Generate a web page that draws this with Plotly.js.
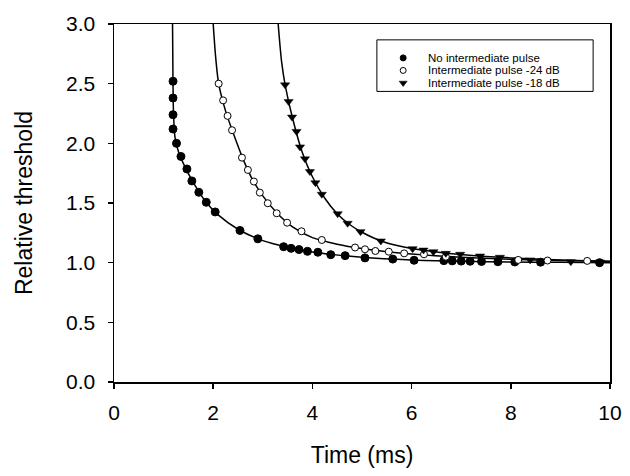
<!DOCTYPE html>
<html>
<head>
<meta charset="utf-8">
<script src="https://cdn.plot.ly/plotly-3.0.1.min.js"></script>
<style>html,body{margin:0;padding:0;background:#fff;}#chart{width:630px;height:476px;}</style>
</head>
<body>
<div id="chart"></div>
<script>
// Series names
const seriesNames = ["No intermediate pulse", "Intermediate pulse -24 dB", "Intermediate pulse -18 dB"];

// Measured points: no intermediate pulse (filled circles)
const noPulseX = [1.19,1.19,1.19,1.19,1.26,1.35,1.47,1.57,1.71,1.86,2.04,2.54,2.90,3.42,3.57,3.73,3.90,4.11,4.37,4.66,5.06,5.62,6.05,6.65,6.82,7.00,7.18,7.41,7.74,8.08,8.60,9.79];
const noPulseY = [2.52,2.38,2.24,2.12,2.00,1.89,1.785,1.685,1.59,1.506,1.425,1.27,1.20,1.134,1.12,1.11,1.095,1.087,1.067,1.059,1.04,1.03,1.02,1.017,1.015,1.013,1.012,1.010,1.008,1.006,1.004,1.0];

// Measured points: intermediate pulse -24 dB (open circles)
const pulse24X = [2.11,2.20,2.29,2.38,2.58,2.70,2.82,2.94,3.10,3.28,3.49,3.78,4.19,4.86,5.06,5.27,5.54,5.85,6.25,6.69,8.15,8.74,9.54];
const pulse24Y = [2.50,2.36,2.23,2.11,1.88,1.777,1.68,1.587,1.498,1.414,1.335,1.263,1.19,1.127,1.112,1.098,1.092,1.078,1.07,1.05,1.023,1.018,1.015];

// Measured points: intermediate pulse -18 dB (filled down-triangles)
const pulse18X = [3.45,3.52,3.59,3.68,3.75,3.85,3.95,4.06,4.19,4.51,4.71,4.97,5.38,6.02,6.24,6.44,6.69,6.98,7.38,7.78,8.39,9.21,9.80];
const pulse18Y = [2.49,2.35,2.22,2.10,1.97,1.87,1.763,1.67,1.573,1.41,1.33,1.26,1.182,1.117,1.106,1.092,1.078,1.07,1.056,1.045,1.023,1.008,1.005];

// Fitted curves
const fitNoPulseX = [1.18,1.185,1.19,1.20,1.23,1.30,1.40,1.60,1.85,2.10,2.50,3.00,3.50,4.00,5.00,6.00,7.00,8.00,9.00,10.0];
const fitNoPulseY = [3.00,2.75,2.50,2.25,2.05,1.93,1.83,1.67,1.51,1.40,1.28,1.185,1.13,1.09,1.045,1.022,1.012,1.006,1.003,1.0];
const fit24X = [2.00,2.05,2.11,2.25,2.40,2.60,2.80,3.00,3.30,3.60,4.00,4.50,5.00,5.50,6.00,7.00,8.00,9.00,10.0];
const fit24Y = [3.00,2.72,2.50,2.27,2.09,1.87,1.69,1.56,1.41,1.30,1.21,1.155,1.118,1.092,1.072,1.045,1.028,1.018,1.012];
const fit18X = [3.31,3.38,3.45,3.60,3.80,4.00,4.25,4.50,4.75,5.00,5.40,6.00,6.50,7.00,7.50,8.00,9.00,10.0];
const fit18Y = [3.00,2.68,2.49,2.21,1.92,1.72,1.54,1.41,1.32,1.255,1.18,1.118,1.09,1.068,1.052,1.04,1.022,1.01];

// Axis ticks
const xTicks = [0,2,4,6,8,10];
const yTicks = [0.0,0.5,1.0,1.5,2.0,2.5,3.0];
const yTickText = ["0.0","0.5","1.0","1.5","2.0","2.5","3.0"];

const lineStyle = {color: "#000", width: 1.5, shape: "spline", smoothing: 0.8};
const markerStyles = [
  {symbol: "circle", size: 8, color: "#000", line: {color: "#000", width: 1}},
  {symbol: "circle", size: 7, color: "#fff", line: {color: "#000", width: 1}},
  {symbol: "triangle-down", size: 8, color: "#000", line: {color: "#000", width: 0.5}}
];

const traces = [];
[[fitNoPulseX, fitNoPulseY],[fit24X, fit24Y],[fit18X, fit18Y]].forEach(function(f){
  traces.push({x: f[0], y: f[1], mode: "lines", line: lineStyle, showlegend: false, hoverinfo: "skip"});
});
[[noPulseX, noPulseY],[pulse24X, pulse24Y],[pulse18X, pulse18Y]].forEach(function(d, i){
  traces.push({x: d[0], y: d[1], mode: "markers", name: seriesNames[i], marker: markerStyles[i], showlegend: false, cliponaxis: false});
});

// Custom compact legend (layout positions in data units)
const legendBox = {x0: 5.30, x1: 9.66, y0: 2.435, y1: 2.867};
const legendRows = [2.716, 2.611, 2.506];
const legendMarkX = 5.83, legendTextX = 6.30;
const legendMarkerSizes = [6, 6, 7];
legendRows.forEach(function(ry, i){
  const m = Object.assign({}, markerStyles[i], {size: legendMarkerSizes[i]});
  traces.push({x: [legendMarkX], y: [ry], mode: "markers", marker: m, showlegend: false, hoverinfo: "skip", cliponaxis: false});
});

const annotations = legendRows.map(function(ry, i){
  return {x: legendTextX, y: ry, xref: "x", yref: "y", text: seriesNames[i], showarrow: false,
          xanchor: "left", yanchor: "middle", font: {family: "Liberation Sans, Arial, sans-serif", size: 11.5, color: "#000"}};
});

const layout = {
  width: 630, height: 476,
  margin: {l: 114, r: 20, t: 24, b: 94, pad: 0},
  paper_bgcolor: "#fff", plot_bgcolor: "#fff",
  font: {family: "Liberation Sans, Arial, sans-serif", color: "#000"},
  showlegend: false,
  xaxis: {
    range: [0, 10], tickvals: xTicks, ticktext: xTicks.map(String),
    showgrid: false, zeroline: false, showline: true, mirror: true,
    linecolor: "#000", linewidth: 1.5, ticks: "outside", ticklen: 5, tickwidth: 1.5, tickcolor: "#000",
    tickfont: {size: 21}, ticklabelstandoff: 6,
    title: {text: "Time (ms)", font: {size: 23}, standoff: 24}
  },
  yaxis: {
    range: [0, 3], tickvals: yTicks, ticktext: yTickText,
    showgrid: false, zeroline: false, showline: true, mirror: true,
    linecolor: "#000", linewidth: 1.5, ticks: "outside", ticklen: 5, tickwidth: 1.5, tickcolor: "#000",
    tickfont: {size: 21}, ticklabelstandoff: 8,
    title: {text: "Relative threshold", font: {size: 23}, standoff: 27}
  },
  shapes: [{type: "rect", xref: "x", yref: "y", x0: legendBox.x0, x1: legendBox.x1, y0: legendBox.y0, y1: legendBox.y1,
            line: {color: "#000", width: 1}, fillcolor: "rgba(0,0,0,0)"}],
  annotations: annotations
};

Plotly.newPlot("chart", traces, layout, {displayModeBar: false, staticPlot: true});
</script>
</body>
</html>
